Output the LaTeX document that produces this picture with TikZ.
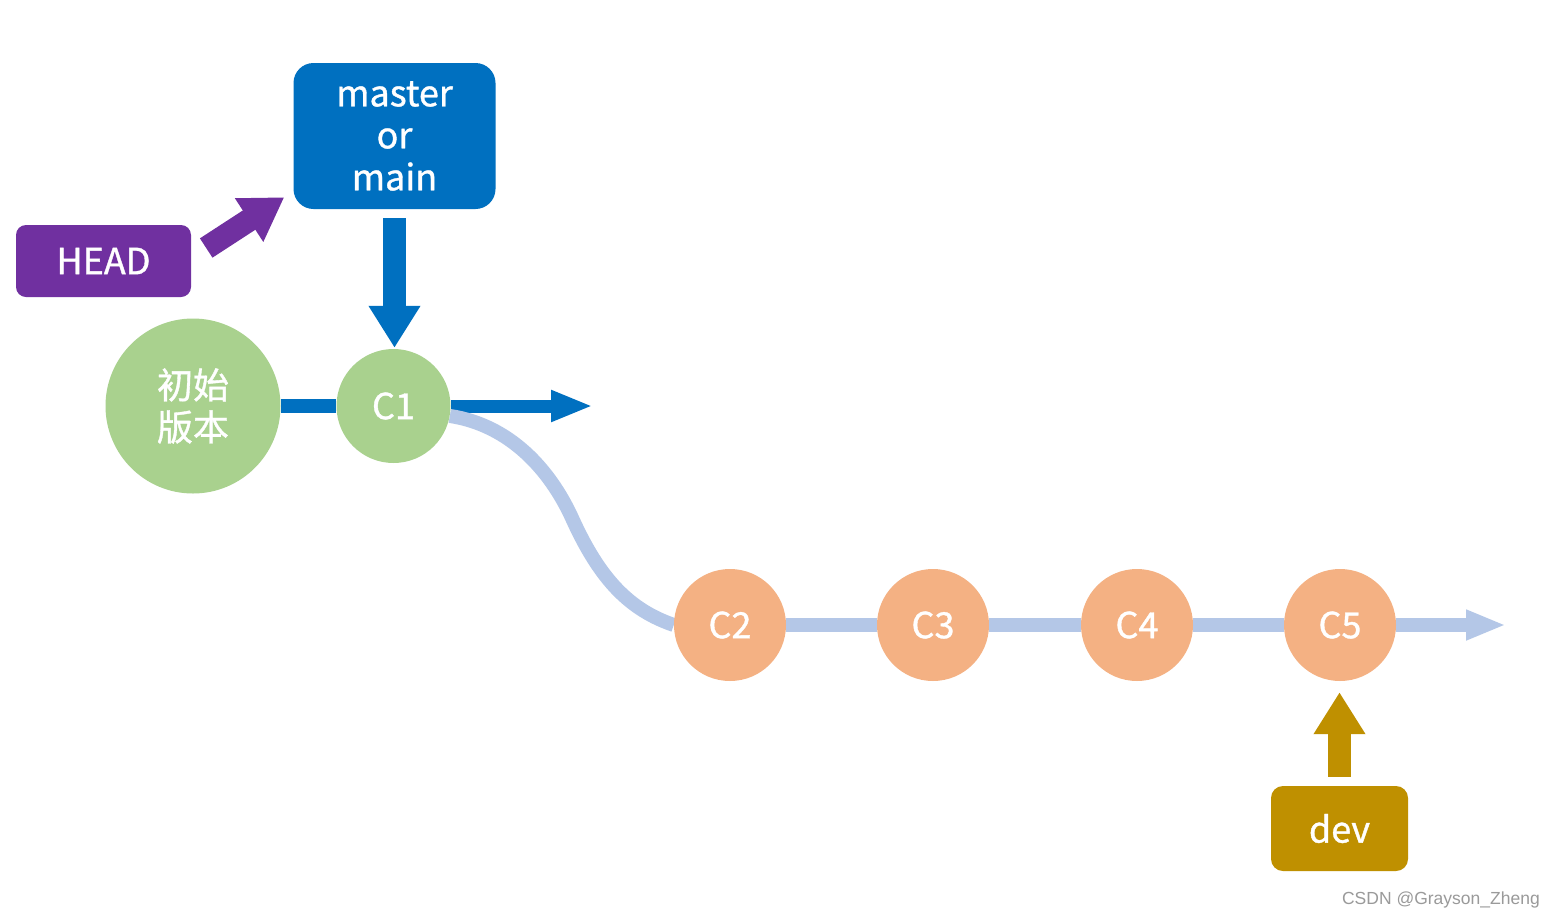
\documentclass[tikz,border=0pt]{standalone}
\usepackage{fontspec}
\setmainfont{Noto Sans CJK SC}[FakeBold=1]
\newfontfamily\wmfont{Liberation Sans}
\usetikzlibrary{arrows.meta,calc}
\definecolor{mblue}{HTML}{0070C0}
\definecolor{hpurple}{HTML}{7030A0}
\definecolor{cgreen}{HTML}{A9D18E}
\definecolor{corange}{HTML}{F4B183}
\definecolor{lblue}{HTML}{B4C7E7}
\definecolor{dgold}{HTML}{BF9000}
\definecolor{wmgray}{HTML}{9A9A9A}
\pgfdeclarelayer{bg}
\pgfsetlayers{bg,main}
\begin{document}
\begin{tikzpicture}[x=1pt,y=-1pt,
  lbl/.style={text=white,font=\fontsize{36}{42}\selectfont,align=center,inner sep=0pt},
  branchbox/.style={lbl,rounded corners=#1},
  greencommit/.style={lbl,circle,fill=cgreen,minimum size=#1},
  orangecommit/.style={lbl,circle,fill=corange,minimum size=112pt},
  fatarrow/.style={draw=#1,line width=23pt,-{Triangle[length=42pt,width=49pt]}},
  mainline/.style={draw=mblue,line width=14pt},
  devline/.style={draw=lblue,line width=14pt}]
\useasboundingbox (0,0) rectangle (1556,919);
% nodes
\node[branchbox=20pt,fill=mblue,minimum width=202pt,minimum height=146pt] (master) at (394.5,136) {master\\or\\main};
\node[branchbox=10pt,fill=hpurple,minimum width=175pt,minimum height=72pt] (head) at (103.5,261) {HEAD};
\node[branchbox=12pt,fill=dgold,minimum width=137pt,minimum height=85pt] (dev) at (1339.5,828.5) {dev};
\node[greencommit=175pt] (init) at (193,406) {初始\\版本};
\node[greencommit=114pt] (c1) at (393.5,406) {C1};
\node[orangecommit] (c2) at (730,625) {C2};
\node[orangecommit] (c3) at (933,625) {C3};
\node[orangecommit] (c4) at (1137,625) {C4};
\node[orangecommit] (c5) at (1340,625) {C5};
\coordinate (mainend) at (593,406);
\coordinate (devend) at (1506,625);
\node[anchor=east,inner sep=0pt,text=wmgray,font=\wmfont\fontsize{17.5}{20}\selectfont] (wm) at (1540,900) {CSDN @Grayson\_Zheng};
% connectors
\begin{pgfonlayer}{bg}
\fill[white] (0,0) rectangle (1556,919);
\draw[mainline] (init) -- (c1);
\draw[draw=mblue,line width=13pt,-{Triangle[length=42pt,width=29pt]}] (c1) -- (mainend);
\draw[devline] (c1.-10) .. controls (510,425) and (550,470) .. (572,518)
  .. controls (600,580) and (630,610) .. (c2.west);
\draw[devline] (c2) -- (c3) -- (c4) -- (c5);
\draw[draw=lblue,line width=14pt,-{Triangle[length=40pt,width=28pt]}] (c5) -- (devend);
\end{pgfonlayer}
\draw[fatarrow=mblue,shorten <=9pt,shorten >=1pt] (master.south) -- (master.south |- c1.north);
\draw[fatarrow=dgold,shorten <=9pt,shorten >=11pt] (dev.north) -- (dev.north |- c5.south);
\draw[fatarrow=hpurple] ([shift={(15,-13)}]head.east) -- ([shift={(-9,-12)}]master.south west);
\end{tikzpicture}
\end{document}
